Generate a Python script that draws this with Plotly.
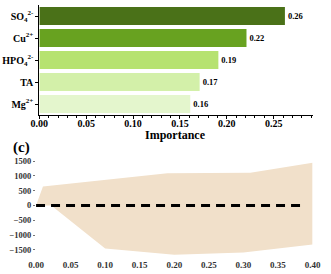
import plotly.graph_objects as go

# ---- data: panel (b) feature importance ----
features = ["SO<sub>4</sub><sup>2-</sup>", "Cu<sup>2+</sup>", "HPO<sub>4</sub><sup>2-</sup>", "TA", "Mg<sup>2+</sup>"]
importance = [0.262, 0.221, 0.191, 0.171, 0.161]
bar_colors = ["#4a7118", "#68a220", "#b6e270", "#d3f0a9", "#e4f6cd"]
imp_ticks = [0.00, 0.05, 0.10, 0.15, 0.20, 0.25]

# ---- data: panel (c) band and reference line ----
band_upper_x = [0.0, 0.01, 0.19, 0.31, 0.40]
band_upper_y = [0, 640, 1090, 1110, 1440]
band_lower_x = [0.0, 0.022, 0.10, 0.20, 0.30, 0.40]
band_lower_y = [0, 0, -1450, -1660, -1590, -1320]
ref_x = [0.0, 0.385]
ref_y = [0, 0]
c_xticks = [0.00, 0.05, 0.10, 0.15, 0.20, 0.25, 0.30, 0.35, 0.40]
c_yticks = [-1500, -1000, -500, 0, 500, 1000, 1500]

W, H = 331, 274
FONT = "Liberation Serif"

def px_x(p):
    return p / W

def px_y(p):
    return (H - p) / H

fig = go.Figure()

fig.add_trace(go.Bar(
    x=importance, y=features, orientation="h",
    marker=dict(color=bar_colors, line=dict(width=0)),
    text=[f"{v:.2f}" for v in importance], textposition="outside",
    textfont=dict(family=FONT, size=8.5, color="black", weight="bold"),
    cliponaxis=False, xaxis="x", yaxis="y", hoverinfo="skip",
))

poly_x = band_upper_x + band_lower_x[::-1]
poly_y = band_upper_y + band_lower_y[::-1]
fig.add_trace(go.Scatter(
    x=poly_x, y=poly_y, mode="lines", fill="toself",
    fillcolor="#f1e0ca", line=dict(width=0, color="#f1e0ca"),
    xaxis="x2", yaxis="y2", hoverinfo="skip",
))
fig.add_trace(go.Scatter(
    x=ref_x, y=ref_y, mode="lines",
    line=dict(color="black", width=3, dash="9px,6px"),
    xaxis="x2", yaxis="y2", hoverinfo="skip",
))

fig.update_layout(
    width=W, height=H, margin=dict(l=0, r=0, t=0, b=0),
    paper_bgcolor="white", plot_bgcolor="white", showlegend=False,
    bargap=0.18,
    font=dict(family=FONT, color="black"),
    xaxis=dict(
        domain=[px_x(32), px_x(320)], range=[0, 0.2915], anchor="y",
        tickvals=imp_ticks, tickformat=".2f",
        tickfont=dict(family=FONT, size=10, weight="bold"),
        ticklabelstandoff=-4,
        showline=True, linecolor="black", linewidth=1,
        ticks="outside", ticklen=3, tickcolor="black",
        minor=dict(dtick=0.01, ticks="outside", ticklen=2, tickcolor="black"),
        showgrid=False, zeroline=False,
    ),
    yaxis=dict(
        domain=[px_y(115), px_y(5)], anchor="x",
        type="category", categoryorder="array", categoryarray=features,
        range=[4.5, -0.5],
        tickfont=dict(family=FONT, size=10, weight="bold"),
        showline=True, linecolor="black", linewidth=1,
        ticks="outside", ticklen=3, tickcolor="black",
        showgrid=False, zeroline=False,
    ),
    xaxis2=dict(
        domain=[px_x(28.5), px_x(320)], range=[0, 0.40], anchor="y2",
        tickvals=c_xticks, tickformat=".2f",
        tickfont=dict(family=FONT, size=9, weight="bold", color="#333"),
        showline=False, ticks="", showgrid=False, zeroline=False,
    ),
    yaxis2=dict(
        domain=[px_y(258), px_y(155)], range=[-1774, 1706], anchor="x2",
        tickvals=c_yticks,
        tickfont=dict(family=FONT, size=8.5, weight="bold", color="#333"),
        showline=False, ticks="outside", ticklen=2, tickcolor="#777",
        showgrid=False, zeroline=False,
    ),
    annotations=[
        dict(text="<b>Importance</b>", x=px_x(175), y=px_y(135),
             xref="paper", yref="paper", xanchor="center", yanchor="middle",
             showarrow=False, font=dict(family=FONT, size=12, color="black")),
        dict(text="<b>(c)</b>", x=px_x(2), y=px_y(147.5),
             xref="paper", yref="paper", xanchor="left", yanchor="middle",
             showarrow=False, font=dict(family=FONT, size=15, color="black")),
    ],
)

fig.write_html("out.html")
